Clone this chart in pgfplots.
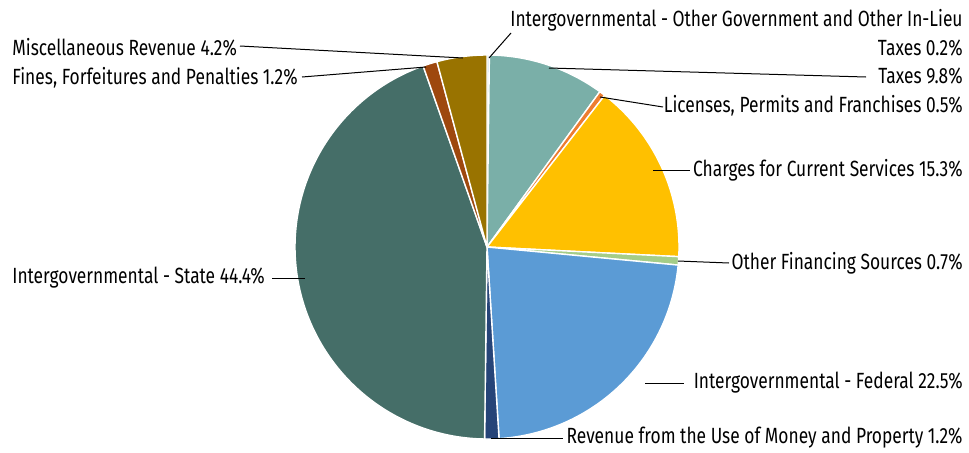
\documentclass[border=0pt]{standalone}
\usepackage{pgfplots}
\pgfplotsset{compat=1.18}
\usepackage{pgfplotstable}
\usepackage{fontspec}
\setmainfont{Fira Sans}[FakeStretch=0.79]
\definecolor{c1}{HTML}{BDD7EE}
\definecolor{c2}{HTML}{7AAFA8}
\definecolor{c3}{HTML}{ED7D31}
\definecolor{c4}{HTML}{FFC000}
\definecolor{c5}{HTML}{A5CD88}
\definecolor{c6}{HTML}{5B9BD5}
\definecolor{c7}{HTML}{264478}
\definecolor{c8}{HTML}{456E68}
\definecolor{c9}{HTML}{9E480E}
\definecolor{c10}{HTML}{997300}
% share values (percent), clockwise from 12 o'clock
\pgfplotstableread{
value col
0.2 c1
9.8 c2
0.5 c3
15.3 c4
0.7 c5
22.5 c6
1.2 c7
44.4 c8
1.2 c9
4.2 c10
}\shares
\def\cx{487}\def\cy{-247}\def\rr{192}
\newcommand\slice[2]{%
  \pgfmathsetmacro\angA{90-3.6*\cum}%
  \pgfmathsetmacro\angB{90-3.6*(\cum+#1)}%
  \pgfmathsetmacro\newcum{\cum+#1}\global\let\cum\newcum
  \edef\tmp{\noexpand\addplot[fill=#2, draw=white, line width=0.7pt, domain=\angB:\angA, samples=120]
    ({\cx+\rr*cos(x)},{\cy+\rr*sin(x)}) -- (axis cs:\cx,\cy) -- cycle;}%
  \tmp}
\begin{document}
\begin{tikzpicture}
\begin{axis}[x=0.5pt, y=0.5pt, xmin=0, xmax=969, ymin=-452, ymax=0,
  hide axis, clip=false, scale only axis]
\path (axis cs:0,0) rectangle (axis cs:969,-452);
\gdef\cum{0}
\pgfplotstablegetrowsof{\shares}
\pgfmathtruncatemacro\nrows{\pgfplotsretval-1}
\foreach \i in {0,...,\nrows}{%
  \pgfplotstablegetelem{\i}{value}\of{\shares}\let\v\pgfplotsretval
  \pgfplotstablegetelem{\i}{col}\of{\shares}\let\c\pgfplotsretval
  \edef\doit{\noexpand\slice{\v}{\c}}\doit
}
% leader lines
\addplot[black, line width=0.5pt] coordinates {(489,-58) (511,-33)};
\addplot[black, line width=0.5pt] coordinates {(549,-68) (866,-77)};
\addplot[black, line width=0.5pt] coordinates {(600,-97) (663,-107)};
\addplot[black, line width=0.5pt] coordinates {(653,-170) (690,-170)};
\addplot[black, line width=0.5pt] coordinates {(678,-261) (729,-263)};
\addplot[black, line width=0.5pt] coordinates {(645,-383) (684,-383)};
\addplot[black, line width=0.5pt] coordinates {(491,-438) (563,-438)};
\addplot[black, line width=0.5pt] coordinates {(272,-278) (305,-278)};
\addplot[black, line width=0.5pt] coordinates {(302,-77) (426,-67)};
\addplot[black, line width=0.5pt] coordinates {(240,-46) (463,-58)};
% labels
\tikzset{lab/.style={inner sep=0pt, font=\fontsize{11}{13}\selectfont}}
\node[lab, anchor=east] at (axis cs:963,-20) {Intergovernmental - Other Government and Other In-Lieu};
\node[lab, anchor=east] at (axis cs:963,-48) {Taxes 0.2\%};
\node[lab, anchor=east] at (axis cs:963,-76) {Taxes 9.8\%};
\node[lab, anchor=east] at (axis cs:963,-106) {Licenses, Permits and Franchises 0.5\%};
\node[lab, anchor=east] at (axis cs:963,-170) {Charges for Current Services 15.3\%};
\node[lab, anchor=east] at (axis cs:963,-263) {Other Financing Sources 0.7\%};
\node[lab, anchor=east] at (axis cs:963,-383) {Intergovernmental - Federal 22.5\%};
\node[lab, anchor=east] at (axis cs:963,-438) {Revenue from the Use of Money and Property 1.2\%};
\node[lab, anchor=west] at (axis cs:12,-278) {Intergovernmental - State 44.4\%};
\node[lab, anchor=west] at (axis cs:12,-47) {Miscellaneous Revenue 4.2\%};
\node[lab, anchor=west] at (axis cs:12,-78) {Fines, Forfeitures and Penalties 1.2\%};
\end{axis}
\end{tikzpicture}
\end{document}
